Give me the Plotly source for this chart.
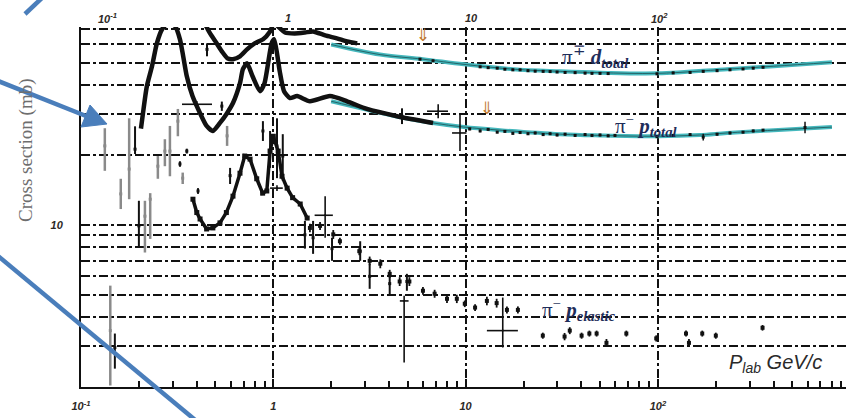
import math
import plotly.graph_objects as go

# ---- pi-/+ d total cross section (GeV/c, mb) ----
pd_total_p = [0.43, 0.441, 0.469, 0.50, 0.54, 0.58, 0.617, 0.671, 0.73, 0.80, 0.885, 0.962, 1.01,
              1.08, 1.15, 1.29, 1.46, 1.61, 1.86, 2.14, 2.42, 2.73]
pd_total_s = [78, 73.8, 66.9, 61.8, 56.0, 52.1, 51.8, 53.3, 57.1, 60.6, 63.1, 68.2, 74.0,
              70.5, 67.5, 66.9, 67.5, 68.2, 65.6, 63.7, 61.8, 60.6]
pd_fit_p = [2.0, 3.59, 6.0, 9.8, 17.7, 31, 50, 100, 229, 400, 803]
pd_fit_s = [59.9, 54.2, 51.8, 49.2, 46.9, 45.9, 45.3, 45.0, 46.9, 48.3, 50.2]
pd_hi_p = [5.79, 6.77, 11.9, 13.1, 14.6, 16.0, 17.6, 19.2, 21.1, 23.0, 25.3, 27.5, 29.9, 32.9,
           37.1, 41.8, 45.4, 50.0, 55.1, 98.9, 120, 147, 172, 203, 237, 277, 313, 352]
pd_hi_s = [51.8, 51.0, 48.0, 47.6, 47.4, 46.9, 46.6, 46.6, 46.2, 46.0, 45.9, 45.8, 45.6, 45.4,
           45.3, 45.1, 45.0, 45.0, 44.9, 44.8, 45.2, 45.4, 45.9, 46.2, 46.6, 47.0, 47.4, 47.8]

# ---- pi- p total cross section ----
pp_total_p = [0.205, 0.21, 0.22, 0.234, 0.248, 0.264, 0.283, 0.308, 0.327, 0.34, 0.355, 0.38,
              0.416, 0.45, 0.485, 0.528, 0.57, 0.617, 0.671, 0.695, 0.73, 0.78, 0.853, 0.90,
              0.98, 1.01, 1.045, 1.08, 1.137, 1.22, 1.33, 1.55, 1.97, 2.42, 3.07, 4.40, 6.77]
pp_total_s = [26.0, 30.3, 39.6, 48.3, 60.6, 69.7, 74.0, 72.0, 63.1, 53.3, 43.7, 35.9,
              30.3, 26.7, 25.4, 27.5, 30.0, 33.5, 40.8, 46.9, 49.7, 43.7, 37.7, 40.8,
              60.6, 63.1, 55.0, 45.9, 37.7, 35.2, 35.9, 34.1, 35.9, 34.1, 31.6, 29.4, 27.5]
pp_fit_p = [2.0, 2.97, 4.56, 6.77, 9.8, 15.1, 31, 50, 100, 165, 229, 400, 803]
pp_fit_s = [34.1, 31.6, 29.1, 27.5, 26.4, 25.6, 24.6, 24.3, 24.1, 24.4, 24.9, 25.6, 26.4]
pp_hi_p = [10.5, 11.9, 13.1, 14.6, 16.0, 17.6, 19.2, 21.1, 23.0, 25.3, 27.5, 29.9, 32.9, 37.1,
           41.8, 45.4, 50.0, 55.1, 59.8, 98.9, 120, 147, 172, 203, 237, 277, 313, 352, 582]
pp_hi_s = [25.9, 25.4, 25.8, 25.1, 25.3, 24.8, 25.0, 24.7, 24.9, 24.5, 24.7, 24.4, 24.6, 24.3,
           24.5, 24.3, 24.4, 24.2, 24.3, 24.0, 24.3, 24.5, 23.9, 24.6, 24.9, 25.1, 25.4, 25.6, 26.3]
pp_hi_err = [0.3] * 22 + [0.8] + [0.3] * 5 + [1.5]

# ---- pi- p elastic cross section ----
el_res_p = [0.382, 0.40, 0.416, 0.45, 0.485, 0.528, 0.57, 0.617, 0.671, 0.71, 0.757, 0.82,
            0.88, 0.925, 0.962, 1.0, 1.06, 1.11, 1.18, 1.26, 1.38, 1.5]
el_res_s = [12.9, 11.3, 10.6, 9.6, 9.7, 10.2, 11.3, 13.3, 16.7, 19.8, 19.2, 15.8,
            13.7, 14.0, 20.8, 24.1, 20.8, 16.2, 14.4, 13.1, 12.3, 10.7]
el_p = [1.55, 1.75, 2.05, 2.22, 2.8, 3.17, 3.6, 4.03, 4.54, 5.1, 6.0, 6.9, 8.0, 9.0, 9.9, 11.2,
        12.9, 14.5, 16.4, 18.7, 25.2, 32.7, 34.8, 40.1, 44.0, 48.0, 54.0, 68.5, 98, 140, 145,
        170, 200, 350]
el_s = [9.7, 9.9, 9.1, 8.5, 7.7, 7.0, 6.8, 6.15, 5.7, 5.7, 5.2, 5.05, 4.8, 4.8, 4.57, 4.4,
        4.7, 4.6, 4.3, 4.3, 3.33, 3.3, 3.5, 3.33, 3.4, 3.4, 3.1, 3.4, 3.24, 3.4, 3.1,
        3.4, 3.33, 3.6]
el_err = [0.4, 0.4, 0.4, 0.3, 0.3, 0.3, 0.3, 0.25, 0.25, 0.25, 0.2, 0.2, 0.2, 0.2, 0.15, 0.15,
          0.2, 0.2, 0.15, 0.15, 0.1, 0.12, 0.12, 0.1, 0.1, 0.1, 0.12, 0.1, 0.1, 0.1, 0.12,
          0.1, 0.1, 0.1]

# ---- individual measurements: value with lower / upper limits ----
meas_p = [0.883, 0.962, 1.045, 1.12, 0.596, 0.54, 0.452, 1.46, 1.61, 2.02, 2.83, 3.17,
          4.03, 4.95, 0.20, 0.191, 0.150, 4.67, 0.355, 0.327, 0.406]
meas_s = [25.4, 20.8, 21.9, 19.8, 16.3, 32.5, 57.1, 9.06, 8.8, 7.9, 7.7, 6.0,
          5.58, 5.7, 9.9, 21.2, 2.96, 29.4, 20.8, 18.3, 14.0]
meas_lo = [23.0, 17.6, 15.9, 15.5, 15.0, 31.0, 53.3, 7.9, 7.5, 7.0, 7.0, 5.3,
           4.95, 5.2, 7.96, 20.2, 2.40, 27.2, 20.3, 17.8, 13.6]
meas_hi = [28.0, 25.4, 28.8, 24.6, 17.6, 34.0, 60.6, 10.4, 10.4, 8.8, 8.5, 6.8,
           6.15, 6.15, 12.7, 26.6, 3.40, 31.8, 21.3, 18.8, 14.4]

# low-energy measurements drawn in grey
low_p = [0.133, 0.142, 0.161, 0.178, 0.215, 0.229, 0.251, 0.273, 0.29, 0.319, 0.575, 0.338]
low_s = [21.9, 3.5, 13.6, 17.4, 10.9, 12.9, 17.9, 20.8, 20.8, 28.0, 24.2, 15.9]
low_lo = [17.1, 2.03, 11.7, 12.9, 7.6, 8.7, 15.8, 17.9, 16.2, 24.1, 21.9, 15.0]
low_hi = [26.1, 5.47, 15.8, 28.8, 12.7, 13.7, 19.8, 23.4, 26.7, 31.6, 26.7, 16.8]

# measurements with momentum bins
bin_p = [0.40, 1.86, 4.79, 15.6, 7.2, 9.35, 1.045]
bin_s = [33.1, 11.0, 4.7, 3.5, 30.9, 24.9, 14.4]
bin_plo = [0.335, 1.64, 4.55, 12.9, 6.3, 8.5, 0.962]
bin_phi = [0.48, 2.04, 5.05, 18.7, 8.1, 10.1, 1.12]
bin_slo = [32.0, 8.8, 2.55, 2.96, 28.8, 20.8, 14.0]
bin_shi = [34.2, 13.3, 4.95, 4.86, 33.1, 30.0, 14.8]

# ---- axis ticks ----
x_tick_vals = [0.1, 1, 10, 100]
x_tick_text = ["10<sup>-1</sup>", "1", "10", "10<sup>2</sup>"]
x_minor_vals = [m * d for d in (0.1, 1, 10, 100) for m in range(2, 10)]
y_tick_vals = [3, 4, 5, 6, 7, 8, 9, 10, 20, 30, 40, 50, 60, 70]
y_tick_text = ["10" if v == 10 else "" for v in y_tick_vals]

INK = "#111111"
TEAL = "#45b8bd"
GREY = "#8a8a8a"

fig = go.Figure()

# fitted curves
for fp, fs in ((pd_fit_p, pd_fit_s), (pp_fit_p, pp_fit_s)):
    fig.add_trace(go.Scatter(x=fp, y=fs, mode="lines", line=dict(color=TEAL, width=4, shape="spline"),
                             hoverinfo="skip"))
    fig.add_trace(go.Scatter(x=fp, y=fs, mode="lines", line=dict(color="#1d4f52", width=0.8, shape="spline"),
                             hoverinfo="skip"))

# grey low-energy measurements
fig.add_trace(go.Scatter(
    x=low_p, y=low_s, mode="markers",
    marker=dict(color=GREY, size=3, symbol="square"),
    error_y=dict(type="data", symmetric=False,
                 array=[h - s for h, s in zip(low_hi, low_s)],
                 arrayminus=[s - l for s, l in zip(low_s, low_lo)],
                 color=GREY, thickness=2.5, width=0)))

# total cross sections
fig.add_trace(go.Scatter(x=pd_total_p, y=pd_total_s, mode="lines",
                         line=dict(color=INK, width=4.5, shape="spline", smoothing=0.6)))
fig.add_trace(go.Scatter(x=pp_total_p, y=pp_total_s, mode="lines",
                         line=dict(color=INK, width=4.5, shape="spline", smoothing=0.6)))

# high-energy total points
fig.add_trace(go.Scatter(x=pd_hi_p, y=pd_hi_s, mode="markers",
                         marker=dict(color=INK, size=3, symbol="square"),
                         error_y=dict(type="constant", value=0.5, color=INK, thickness=1.5, width=0)))
fig.add_trace(go.Scatter(x=pp_hi_p, y=pp_hi_s, mode="markers",
                         marker=dict(color=INK, size=3, symbol="square"),
                         error_y=dict(type="data", array=pp_hi_err, color=INK, thickness=1.5, width=0)))

# elastic
fig.add_trace(go.Scatter(x=el_res_p, y=el_res_s, mode="lines+markers",
                         line=dict(color=INK, width=3.5),
                         marker=dict(color=INK, size=5, symbol="square")))
fig.add_trace(go.Scatter(x=el_p, y=el_s, mode="markers",
                         marker=dict(color=INK, size=4, symbol="square"),
                         error_y=dict(type="data", array=el_err, color=INK, thickness=1.8, width=0)))

# individual measurements
fig.add_trace(go.Scatter(
    x=meas_p, y=meas_s, mode="markers",
    marker=dict(color=INK, size=3, symbol="square"),
    error_y=dict(type="data", symmetric=False,
                 array=[h - s for h, s in zip(meas_hi, meas_s)],
                 arrayminus=[s - l for s, l in zip(meas_s, meas_lo)],
                 color=INK, thickness=2, width=0)))
fig.add_trace(go.Scatter(
    x=bin_p, y=bin_s, mode="markers",
    marker=dict(color=INK, size=2),
    error_x=dict(type="data", symmetric=False,
                 array=[h - p for h, p in zip(bin_phi, bin_p)],
                 arrayminus=[p - l for p, l in zip(bin_p, bin_plo)],
                 color=INK, thickness=1.6, width=0),
    error_y=dict(type="data", symmetric=False,
                 array=[h - s for h, s in zip(bin_shi, bin_s)],
                 arrayminus=[s - l for s, l in zip(bin_s, bin_slo)],
                 color=INK, thickness=1.6, width=0)))

TICKFONT = dict(family="Liberation Sans", size=11, color="#2e2a26", weight="bold", style="italic")

fig.update_xaxes(
    type="log", range=[-1, 2.978],
    tickmode="array", tickvals=x_tick_vals, ticktext=x_tick_text,
    ticks="inside", ticklen=8, tickwidth=1.5, tickcolor=INK,
    minor=dict(tickmode="array", tickvals=x_minor_vals, ticks="inside", ticklen=6,
               tickwidth=1.5, tickcolor=INK, showgrid=False),
    showgrid=True, gridcolor=INK, gridwidth=1.5, griddash="dashdot",
    showline=True, linecolor=INK, linewidth=2, zeroline=False,
    tickfont=TICKFONT, ticklabelstandoff=8,
)
fig.update_yaxes(
    type="log", range=[math.log10(2), 1.853],
    tickmode="array", tickvals=y_tick_vals, ticktext=y_tick_text, ticks="",
    showgrid=True, gridcolor=INK, gridwidth=1.5, griddash="dashdot",
    showline=True, linecolor=INK, linewidth=2, zeroline=False,
    tickfont=TICKFONT, ticklabelstandoff=14,
)

L, T, B, W, H = 81, 27, 31, 846, 418
PW, PH = W - L, H - T - B


def fx(px):
    return (px - L) / PW


def fy(py):
    return (H - B - py) / PH


def note(px, py, text, font, anchor="center", **kw):
    return dict(x=fx(px), y=fy(py), xref="paper", yref="paper", text=text, showarrow=False,
                font=font, xanchor=anchor, yanchor="middle", **kw)


annotations = []
# top axis labels
for txt, px in (("10<sup>-1</sup>", 107), ("1", 288), ("10", 472), ("10<sup>2</sup>", 659)):
    annotations.append(note(px, 18, txt, TICKFONT))

annotations.append(note(26, 150, "Cross section (mb)",
                        dict(family="Liberation Serif", size=19, color="#6e6e6e"), textangle=-90))

LABEL = dict(family="Liberation Serif", size=21, color="#1f2d5a")
annotations += [
    note(560, 56, "π<sup>∓</sup> <i><b>d</b></i><sub><i><b>total</b></i></sub>", LABEL, "left"),
    note(613, 125, "π<sup>−</sup> <i><b>p</b></i><sub><i><b>total</b></i></sub>", LABEL, "left"),
    note(540, 309, "π<sup>−</sup> <i><b>p</b></i><sub><i><b>elastic</b></i></sub>", LABEL, "left"),
]

annotations.append(note(727, 363, "<i>P</i><sub><i>lab</i></sub><i> GeV/c</i>",
                        dict(family="Liberation Sans", size=20, color="#2a2a2a"), "left"))
for px, py in ((423, 35), (487, 108)):
    annotations.append(note(px, py, "⇓", dict(family="DejaVu Sans", size=17, color="#c07a30")))

BLUE = "#4a7ebb"
shapes = [
    dict(type="line", xref="paper", yref="paper", x0=fx(43), y0=fy(-3), x1=fx(25), y1=fy(14),
         line=dict(color=BLUE, width=4.5), layer="above"),
    dict(type="line", xref="paper", yref="paper", x0=fx(-2), y0=fy(81), x1=fx(86), y1=fy(116),
         line=dict(color=BLUE, width=4.5), layer="above"),
    dict(type="path", xref="paper", yref="paper",
         path=f"M {fx(81)},{fy(127)} L {fx(90)},{fy(105)} L {fx(107)},{fy(124)} Z",
         fillcolor=BLUE, line=dict(color=BLUE, width=1), layer="above"),
    dict(type="line", xref="paper", yref="paper", x0=fx(-2), y0=fy(256), x1=fx(200), y1=fy(424),
         line=dict(color=BLUE, width=4.5), layer="above"),
]

fig.update_layout(
    width=W, height=H, margin=dict(l=L, r=0, t=T, b=B),
    paper_bgcolor="white", plot_bgcolor="white", showlegend=False,
    annotations=annotations, shapes=shapes,
)

fig.write_html("out.html")
